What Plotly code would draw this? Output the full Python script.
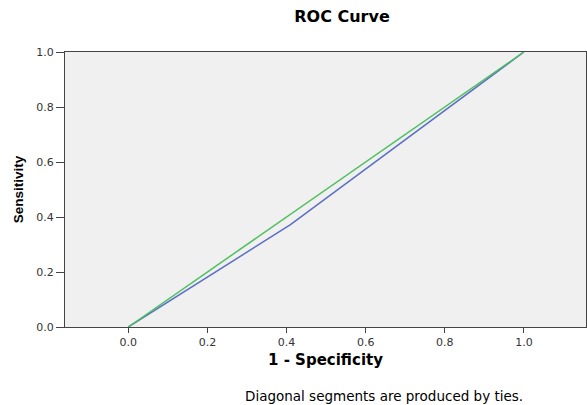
import plotly.graph_objects as go

# ROC data
fpr = [0.0, 0.41, 1.0]
tpr = [0.0, 0.372, 1.0]
ref_x = [0.0, 1.0]
ref_y = [0.0, 1.0]
tick_vals = [0.0, 0.2, 0.4, 0.6, 0.8, 1.0]
tick_text = ["0.0", "0.2", "0.4", "0.6", "0.8", "1.0"]

W, H = 587, 405

fig = go.Figure()
fig.add_trace(go.Scatter(x=fpr, y=tpr, mode="lines",
                         line=dict(color="#5b6fc6", width=1.5), showlegend=False))
fig.add_trace(go.Scatter(x=ref_x, y=ref_y, mode="lines",
                         line=dict(color="#4fbf5f", width=1.5), showlegend=False))

fig.update_layout(
    width=W, height=H,
    margin=dict(l=65, r=1, t=52, b=78),
    paper_bgcolor="white", plot_bgcolor="#f0f0f0",
    font=dict(family="DejaVu Sans, sans-serif", size=11, color="#333333"),
    title=dict(text="<b>ROC Curve</b>", x=342 / W, xanchor="center",
               y=1 - 16 / H, yanchor="middle",
               font=dict(family="DejaVu Sans, sans-serif", size=16, color="#000000")),
    xaxis=dict(range=[-0.160, 1.157], tickvals=tick_vals, ticktext=tick_text,
               showgrid=False, zeroline=False, showline=True, linecolor="#444444", linewidth=1,
               mirror=True, ticks="outside", ticklen=5, tickcolor="#444444",
               tickfont=dict(size=11, color="#333333"),
               title=dict(text="<b>1 - Specificity</b>",
                          font=dict(family="DejaVu Sans, sans-serif", size=15, color="#000000"),
                          standoff=6)),
    yaxis=dict(range=[0, 1], tickvals=tick_vals, ticktext=tick_text,
               showgrid=False, zeroline=False, showline=True, linecolor="#444444", linewidth=1,
               mirror=True, ticks="outside", ticklen=8, tickcolor="#444444",
               tickfont=dict(size=11, color="#333333"),
               title=dict(text="<b>Sensitivity</b>",
                          font=dict(family="Liberation Sans, sans-serif",
                                    size=13.5, color="#000000"),
                          standoff=9)),
    annotations=[dict(text="Diagonal segments are produced by ties.",
                      x=(384 - 65) / 521, y=(327 - 396) / 275,
                      xref="paper", yref="paper", showarrow=False,
                      xanchor="center", yanchor="middle",
                      font=dict(family="DejaVu Sans, sans-serif", size=13.5, color="#000000"))],
)

fig.write_html(
    "out.html",
    config={"displayModeBar": False},
    post_script="document.body.style.margin='0';document.body.style.overflow='hidden';",
)
